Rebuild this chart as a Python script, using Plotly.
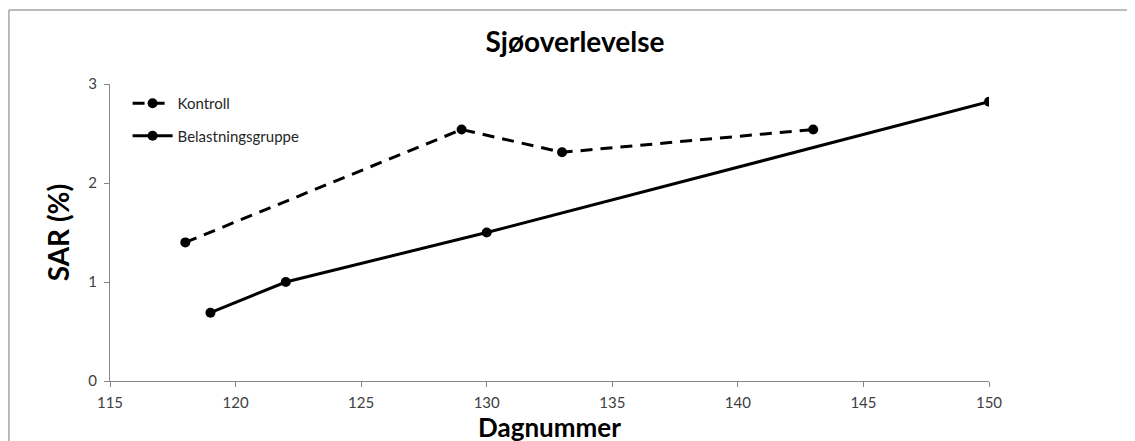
import plotly.graph_objects as go

# Dagnummer / SAR (%) per group
kontroll_dag = [118, 129, 133, 143]
kontroll_sar = [1.40, 2.54, 2.31, 2.54]

belastning_dag = [119, 122, 130, 150]
belastning_sar = [0.69, 1.00, 1.50, 2.82]

x_ticks = [115, 120, 125, 130, 135, 140, 145, 150]
y_ticks = [0, 1, 2, 3]

FONT = "Lato, 'Open Sans', sans-serif"

fig = go.Figure()

fig.add_trace(go.Scatter(
    x=kontroll_dag, y=kontroll_sar,
    name="Kontroll", legendgroup="k",
    mode="lines+markers",
    line=dict(color="black", width=3, dash="12px,8px"),
    marker=dict(color="black", size=10),
))
fig.add_trace(go.Scatter(
    x=belastning_dag, y=belastning_sar,
    name="Belastningsgruppe", legendgroup="b",
    mode="lines+markers",
    line=dict(color="black", width=3),
    marker=dict(color="black", size=10),
))

# outer chart frame (grey): only top and left edges show in the original
frame = dict(color="#a6a6a6", width=1.5)
fig.add_shape(type="line", xref="paper", yref="paper",
              x0=-0.115, x1=1.2, y0=1.249, y1=1.249, line=frame, layer="below")
fig.add_shape(type="line", xref="paper", yref="paper",
              x0=-0.115, x1=-0.115, y0=-0.3, y1=1.249, line=frame, layer="below")

fig.update_layout(
    width=1135, height=441,
    margin=dict(l=102, r=154, t=76, b=68),
    paper_bgcolor="white", plot_bgcolor="white",
    font=dict(family=FONT, color="#404040", size=15),
    title=dict(text="<b>Sjøoverlevelse</b>", x=0.529, xanchor="center",
               xref="paper", yref="container", y=0.923, yanchor="middle",
               font=dict(size=28, color="black", family=FONT)),
    showlegend=True,
    legend=dict(x=0.02, y=0.99, xanchor="left", yanchor="top", itemwidth=40,
                bgcolor="rgba(0,0,0,0)", font=dict(size=15, color="#262626"),
                traceorder="grouped", tracegroupgap=10),
    xaxis=dict(range=[115, 150], tickvals=x_ticks, showgrid=False, zeroline=False,
               showline=True, linecolor="#868686", linewidth=1,
               ticks="outside", ticklen=5, tickcolor="#868686",
               ticklabelstandoff=3,
               tickfont=dict(size=15, color="#404040"),
               title=dict(text="<b>Dagnummer</b>", standoff=0,
                          font=dict(size=26, color="black", family=FONT))),
    yaxis=dict(range=[0, 3], tickvals=y_ticks, showgrid=False, zeroline=False,
               showline=True, linecolor="#868686", linewidth=1,
               ticks="outside", ticklen=5, tickcolor="#868686",
               ticklabelstandoff=4,
               tickfont=dict(size=15, color="#404040"),
               title=dict(text="<b>SAR (%)</b>", standoff=10,
                          font=dict(size=28, color="black", family=FONT))),
)

fig.write_html("out.html")
